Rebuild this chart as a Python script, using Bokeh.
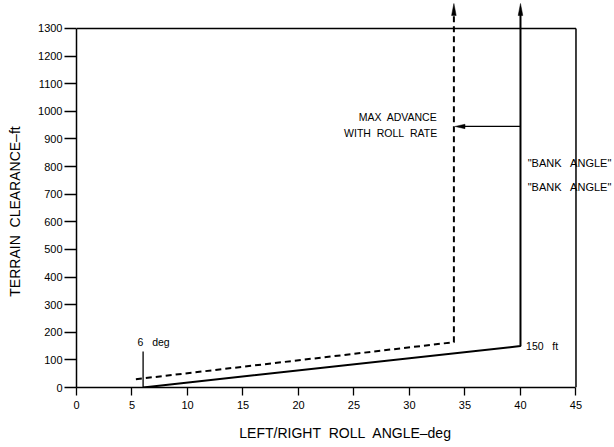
import math
from bokeh.plotting import figure
from bokeh.models import Range1d, FixedTicker
from bokeh.embed import file_html
from bokeh.resources import INLINE
from bokeh.core.properties import value

# ---- data ----
x_ticks = [0, 5, 10, 15, 20, 25, 30, 35, 40, 45]
y_ticks = [0, 100, 200, 300, 400, 500, 600, 700, 800, 900, 1000, 1100, 1200, 1300]

solid_x = [6, 40, 40]
solid_y = [0, 150, 1390]
dashed_x = [5.35, 34, 34]
dashed_y = [30, 164, 1390]
rate_x = [40, 34.1]
rate_y = [945, 945]
six_deg_x = [6, 6]
six_deg_y = [0, 130]
box_top_x = [0, 45]
box_top_y = [1300, 1300]
box_right_x = [45, 45]
box_right_y = [0, 1300]

NB = "\u00a0"
FONT = "Liberation Sans"
X0, X1 = 0, 48.47
Y0, Y1 = 0, 1401
W, H = 614, 447
BL, BB = 76, 60
px_x = (W - BL) / (X1 - X0)
px_y = (H - BB) / (Y1 - Y0)

p = figure(width=W, height=H, output_backend="svg", toolbar_location=None,
           x_range=Range1d(X0, X1), y_range=Range1d(Y0, Y1),
           min_border_left=BL, min_border_right=0, min_border_top=0, min_border_bottom=BB)
p.outline_line_color = None
p.grid.visible = False
p.background_fill_color = "white"

for ax in (p.xaxis[0], p.yaxis[0]):
    ax.axis_line_width = 1.5
    ax.axis_line_color = "black"
    ax.major_tick_line_color = "black"
    ax.major_tick_line_width = 1.3
    ax.major_tick_in = 0
    ax.minor_tick_line_color = None
    ax.major_label_text_font = FONT
    ax.major_label_text_font_size = "11px"
    ax.major_label_text_color = "black"
    ax.axis_label_text_font = FONT
    ax.axis_label_text_font_size = "14px"
    ax.axis_label_text_font_style = "normal"
    ax.axis_label_text_color = "black"

p.xaxis.ticker = FixedTicker(ticks=x_ticks)
p.yaxis.ticker = FixedTicker(ticks=y_ticks)
p.xaxis.bounds = (x_ticks[0], x_ticks[-1])
p.yaxis.bounds = (y_ticks[0], y_ticks[-1])
p.xaxis.major_tick_out = 8
p.yaxis.major_tick_out = 12
p.xaxis.major_label_standoff = 5
p.yaxis.major_label_standoff = 2

p.xaxis.axis_label = f"LEFT/RIGHT{NB} ROLL{NB} ANGLE\u2013deg"
p.xaxis.axis_label_standoff = 13
# trailing padding shifts the centred label downward to match the original position
p.yaxis.axis_label = f"TERRAIN{NB} CLEARANCE\u2013ft" + NB * 9
p.yaxis.axis_label_standoff = 12

# box
p.line(box_top_x, box_top_y, line_color="black", line_width=1.5)
p.line(box_right_x, box_right_y, line_color="black", line_width=1.5)

# curves
p.line(solid_x, solid_y[:2] + [solid_y[2] - 30], line_color="black", line_width=2)
p.line(dashed_x, dashed_y[:2] + [dashed_y[2] - 30], line_color="black", line_width=2,
       line_dash="6 4")
p.line(six_deg_x, six_deg_y, line_color="black", line_width=1.3)
p.line([rate_x[0], rate_x[1] + 0.5], rate_y, line_color="black", line_width=1.3)


def up_head(x, y, length_px=12, half_px=2.3):
    return ([x - half_px / px_x, x, x + half_px / px_x],
            [y - length_px / px_y, y, y - length_px / px_y])


def left_head(x, y, length_px=10, half_px=2.2):
    return ([x + length_px / px_x, x, x + length_px / px_x],
            [y + half_px / px_y, y, y - half_px / px_y])


for hx, hy in (up_head(solid_x[-1], solid_y[-1]), up_head(dashed_x[-1], dashed_y[-1]),
               left_head(rate_x[-1], rate_y[-1])):
    p.patch(hx, hy, fill_color="black", line_color="black", line_width=0.5)

# annotations
texts = [
    (32.5, 978, f"MAX{NB} ADVANCE", "right", "10.5px"),
    (32.5, 923, f"WITH{NB} ROLL{NB} RATE", "right", "10.5px"),
    (40.65, 811, f"\"BANK{NB}{NB} ANGLE\"", "left", "11px"),
    (40.65, 727, f"\"BANK{NB}{NB} ANGLE\"", "left", "11px"),
    (40.5, 152, f"150{NB}{NB} ft", "left", "10.5px"),
    (5.5, 163, f"6{NB}{NB} deg", "left", "10.5px"),
]
for tx, ty, tt, al, fs in texts:
    p.text(x=[tx], y=[ty], text=[tt], text_align=al, text_baseline="middle",
           text_font=value(FONT), text_font_size=fs, text_color="black")

open("out.html", "w").write(file_html(p, INLINE))
